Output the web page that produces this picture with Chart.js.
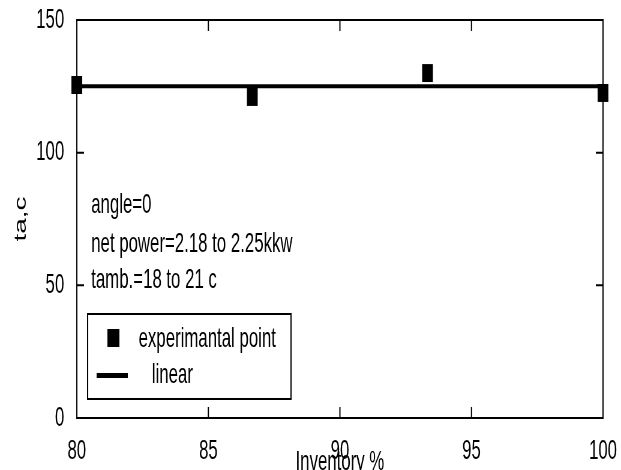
<!DOCTYPE html>
<html>
<head>
<meta charset="utf-8">
<script src="https://cdn.jsdelivr.net/npm/chart.js@4/dist/chart.umd.min.js"></script>
<style>
  html, body { margin: 0; padding: 0; background: #fff; overflow: hidden; }
  #wrap { width: 1035px; height: 470px; transform: scaleX(0.6); transform-origin: 0 0; }
  canvas { display: block; }
</style>
</head>
<body>
<div id="wrap"><canvas id="c" width="1035" height="470" style="width:1035px;height:470px"></canvas></div>
<script>
// Measured outlet temperature against refrigerant inventory
const inventory = [80, 86.67, 93.33, 100];
const taMeasured = [125.5, 121, 130, 122.5];

// Linear fit through the measurements
const fitInventory = [80, 100];
const fitTa = [125, 125];

// Axis ranges and tick spacing
const xRange = [80, 100];
const xStep = 5;
const yRange = [0, 150];
const yStep = 50;

// Test conditions printed inside the plot
const notes = ['angle=0', 'net power=2.18 to 2.25kkw', 'tamb.=18 to 21 c'];

const seriesNames = ['experimantal point', 'linear'];

const FONT = "'Liberation Sans', Arial, sans-serif";
Chart.defaults.font.family = FONT;
Chart.defaults.color = '#000';

// Box around the plot with inward tick marks on all four sides
const boxAndTicks = {
  id: 'boxAndTicks',
  afterDraw(chart) {
    const { ctx, chartArea: a, scales } = chart;
    ctx.save();
    ctx.strokeStyle = '#000';
    ctx.lineWidth = 2;
    ctx.strokeRect(a.left, a.top, a.right - a.left, a.bottom - a.top);
    ctx.beginPath();
    scales.x.ticks.forEach(t => {
      if (t.value <= xRange[0] || t.value >= xRange[1]) return;
      const px = scales.x.getPixelForValue(t.value);
      ctx.moveTo(px, a.bottom); ctx.lineTo(px, a.bottom - 11);
      ctx.moveTo(px, a.top); ctx.lineTo(px, a.top + 11);
    });
    scales.y.ticks.forEach(t => {
      if (t.value <= yRange[0] || t.value >= yRange[1]) return;
      const py = scales.y.getPixelForValue(t.value);
      ctx.moveTo(a.left, py); ctx.lineTo(a.left + 12, py);
      ctx.moveTo(a.right, py); ctx.lineTo(a.right - 12, py);
    });
    ctx.stroke();

    // condition notes
    ctx.fillStyle = '#000';
    ctx.font = '28px ' + FONT;
    ctx.textBaseline = 'alphabetic';
    ctx.textAlign = 'left';
    const noteX = a.left + 24;
    const noteY = [213, 252, 288];
    notes.forEach((s, i) => ctx.fillText(s, noteX, noteY[i]));

    // legend box
    const bx = a.left + 18, by = 314, bw = 339, bh = 85;
    ctx.fillStyle = '#fff';
    ctx.fillRect(bx, by, bw, bh);
    ctx.lineWidth = 2;
    ctx.strokeStyle = '#000';
    ctx.strokeRect(bx, by, bw, bh);
    ctx.fillStyle = '#000';
    const ds = chart.data.datasets;
    // marker sample
    ctx.fillRect(bx + 33, 329, 20, 18);
    ctx.fillText(ds[0].label, bx + 85, 347);
    // line sample
    ctx.lineWidth = 5;
    ctx.beginPath();
    ctx.moveTo(bx + 15, 375.5);
    ctx.lineTo(bx + 67, 375.5);
    ctx.stroke();
    ctx.fillText(ds[1].label, bx + 107, 383);
    ctx.restore();
  }
};

new Chart(document.getElementById('c'), {
  type: 'scatter',
  data: {
    datasets: [
      {
        label: seriesNames[0],
        data: inventory.map((x, i) => ({ x, y: taMeasured[i] })),
        pointStyle: 'rect',
        pointRadius: 12.7,
        pointHoverRadius: 12.7,
        backgroundColor: '#000',
        borderWidth: 0,
        showLine: false,
        clip: false
      },
      {
        label: seriesNames[1],
        data: fitInventory.map((x, i) => ({ x, y: fitTa[i] })),
        showLine: true,
        borderColor: '#000',
        borderWidth: 4,
        pointRadius: 0,
        clip: false
      }
    ]
  },
  options: {
    responsive: false,
    animation: false,
    devicePixelRatio: 1,
    layout: { padding: { top: 20, right: 30, bottom: 0, left: 0 } },
    plugins: { legend: { display: false }, tooltip: { enabled: false } },
    scales: {
      x: {
        type: 'linear',
        min: xRange[0], max: xRange[1],
        grid: { display: false },
        border: { display: false },
        ticks: { stepSize: xStep, padding: 8, font: { size: 28 }, color: '#000' },
        title: { display: true, text: 'Inventory %', font: { size: 28 }, color: '#000', padding: { top: 0, bottom: -9 } },
        afterFit: s => { s.height = 52; s.paddingLeft = 0; s.paddingRight = 0; }
      },
      y: {
        type: 'linear',
        min: yRange[0], max: yRange[1],
        grid: { display: false },
        border: { display: false },
        ticks: { stepSize: yStep, padding: 13, font: { size: 28 }, color: '#000' },
        title: { display: true, text: 'ta,c', font: { size: 28 }, color: '#000', padding: { top: 18, bottom: 0 } },
        afterFit: s => { s.width = 128; s.paddingTop = 0; s.paddingBottom = 0; }
      }
    }
  },
  plugins: [boxAndTicks]
});
</script>
</body>
</html>
